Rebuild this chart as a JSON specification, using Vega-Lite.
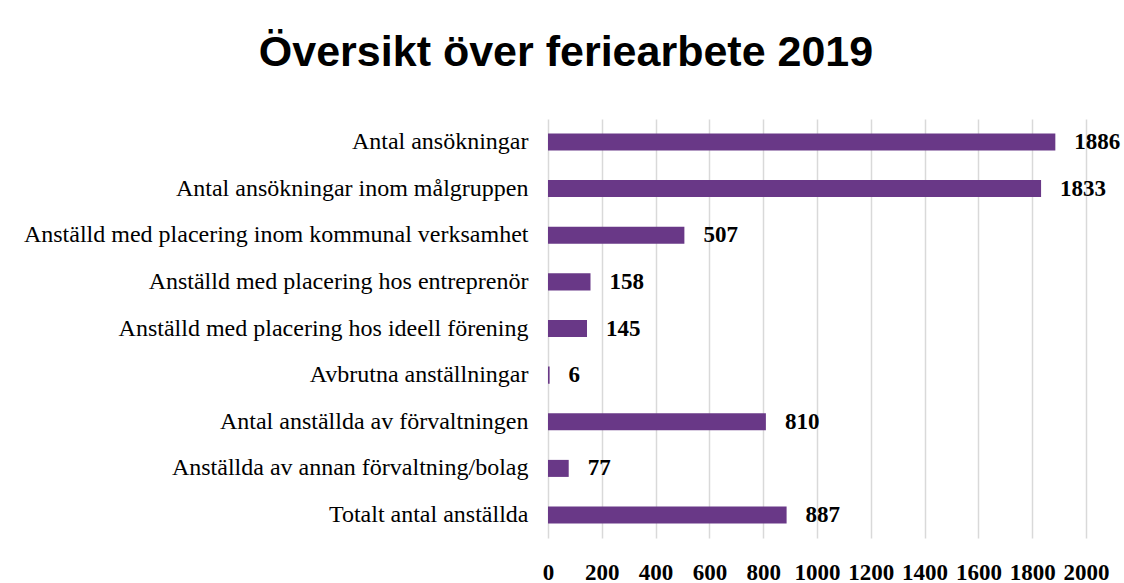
{
  "$schema": "https://vega.github.io/schema/vega-lite/v6.json",
  "autosize": {"type": "none"},
  "width": 538,
  "height": 419,
  "padding": {"left": 548, "top": 119, "right": 38, "bottom": 45},
  "background": "white",
  "title": {
    "text": "Översikt över feriearbete 2019",
    "font": "Liberation Sans",
    "fontSize": 43,
    "fontWeight": "bold",
    "color": "black",
    "anchor": "middle",
    "frame": "group",
    "dx": -251,
    "baseline": "alphabetic",
    "offset": 10
  },
  "data": {
    "values": [
      {"kategori": "Antal ansökningar", "antal": 1886},
      {"kategori": "Antal ansökningar inom målgruppen", "antal": 1833},
      {"kategori": "Anställd med placering inom kommunal verksamhet", "antal": 507},
      {"kategori": "Anställd med placering hos entreprenör", "antal": 158},
      {"kategori": "Anställd med placering hos ideell förening", "antal": 145},
      {"kategori": "Avbrutna anställningar", "antal": 6},
      {"kategori": "Antal anställda av förvaltningen", "antal": 810},
      {"kategori": "Anställda av annan förvaltning/bolag", "antal": 77},
      {"kategori": "Totalt antal anställda", "antal": 887}
    ]
  },
  "encoding": {
    "y": {
      "field": "kategori",
      "type": "nominal",
      "sort": null,
      "title": null,
      "scale": {"paddingInner": 0.635, "paddingOuter": 0.31},
      "axis": {
        "domain": false,
        "ticks": false,
        "grid": false,
        "labelFont": "Liberation Serif",
        "labelFontSize": 24,
        "labelColor": "black",
        "labelPadding": 20,
        "labelLimit": 600
      }
    },
    "x": {
      "field": "antal",
      "type": "quantitative",
      "title": null,
      "scale": {"domain": [0, 2000], "nice": false},
      "axis": {
        "values": [0, 200, 400, 600, 800, 1000, 1200, 1400, 1600, 1800, 2000],
        "format": "d",
        "domain": false,
        "ticks": false,
        "grid": true,
        "gridColor": "#d9d9d9",
        "gridWidth": 1.5,
        "labelFont": "Liberation Serif",
        "labelFontSize": 23,
        "labelFontWeight": "bold",
        "labelColor": "black",
        "labelBaseline": "middle",
        "labelPadding": 34,
        "labelFlush": false,
        "labelOverlap": false
      }
    }
  },
  "layer": [
    {"mark": {"type": "bar", "color": "#693887"}},
    {
      "mark": {
        "type": "text",
        "align": "left",
        "baseline": "middle",
        "dx": 19,
        "font": "Liberation Serif",
        "fontSize": 23,
        "fontWeight": "bold",
        "color": "black"
      },
      "encoding": {"text": {"field": "antal", "type": "quantitative"}}
    }
  ],
  "config": {"view": {"stroke": null}}
}
